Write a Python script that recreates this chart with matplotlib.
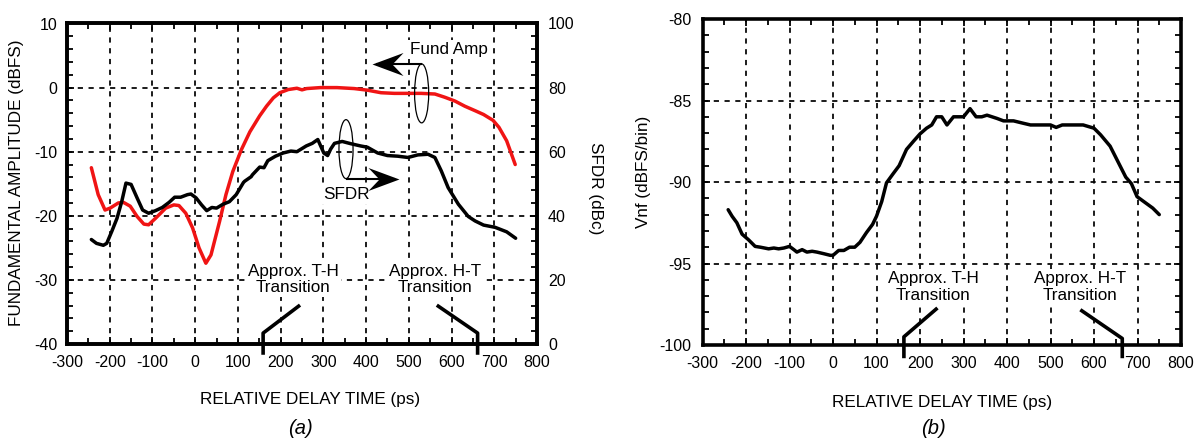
import matplotlib
matplotlib.use("Agg")
import matplotlib.pyplot as plt
from matplotlib.patches import Ellipse
from matplotlib.path import Path
from matplotlib.ticker import MultipleLocator

plt.rcParams['font.family'] = ['Liberation Sans', 'DejaVu Sans']

# ---------------- data ----------------
delay_fund = [-243, -227, -211, -199, -180, -168, -152, -136, -120, -109, -93, -69, -50, -38,
              -22, -6, 9, 25, 37, 57, 72, 88, 108, 128, 151, 167, 183, 198, 218, 238, 250,
              261, 293, 332, 372, 403, 435, 466, 498, 529, 561, 584, 608, 631, 655, 675,
              697, 711, 729, 749]
fund_amp = [-12.5, -16.7, -19.1, -18.8, -18.0, -17.9, -18.5, -20.1, -21.3, -21.4, -20.4, -18.8,
            -18.3, -18.4, -19.6, -21.9, -25.0, -27.4, -26.1, -20.9, -16.7, -13.1, -9.7, -6.9,
            -4.4, -2.9, -1.6, -0.8, -0.3, -0.1, -0.35, -0.15, 0.0, 0.0, -0.15, -0.4, -0.8,
            -0.9, -0.9, -0.9, -1.0, -1.5, -2.1, -2.9, -3.6, -4.2, -5.1, -6.2, -8.3, -12.0]

delay_sfdr = [-243, -231, -215, -207, -195, -183, -172, -162, -150, -136, -123, -109, -93, -77,
              -61, -48, -34, -18, -10, 2, 15, 27, 39, 50, 65, 80, 96, 113, 116, 131, 134, 151,
              161, 170, 188, 206, 224, 238, 260, 274, 287, 301, 310, 317, 326, 344, 364, 387,
              403, 427, 450, 474, 498, 521, 545, 561, 576, 592, 616, 639, 655, 675, 702, 729,
              750]
sfdr = [32.6, 31.4, 30.8, 31.4, 35.2, 39.2, 44.4, 50.2, 49.8, 45.6, 41.8, 40.8, 41.6, 42.6,
        44.2, 45.8, 45.8, 46.6, 46.8, 45.6, 43.4, 41.6, 42.6, 42.4, 43.6, 44.4, 46.6, 50.4,
        50.8, 52.2, 52.8, 55.2, 55.0, 57.2, 58.6, 59.6, 60.2, 60.0, 61.8, 62.6, 63.8, 59.6,
        58.8, 60.8, 62.6, 63.2, 62.5, 61.8, 61.4, 59.6, 58.8, 58.6, 58.2, 59.0, 59.2, 58.2,
        54.0, 48.8, 43.6, 39.8, 38.4, 37.1, 36.4, 35.0, 33.0]

delay_vnf = [-241, -232, -221, -209, -194, -179, -167, -148, -136, -125, -113, -100, -90, -83,
             -71, -60, -48, -37, -21, -6, 0, 13, 25, 38, 50, 62, 77, 91, 100, 112, 123, 138,
             152, 169, 185, 200, 215, 227, 238, 250, 262, 277, 300, 315, 329, 342, 354, 377,
             392, 415, 438, 454, 500, 513, 527, 575, 600, 615, 637, 655, 673, 686, 699, 717,
             735, 750]
vnf = [-91.7, -92.1, -92.5, -93.2, -93.55, -93.95, -94.0, -94.1, -94.05, -94.1, -94.05, -93.95,
       -94.15, -94.3, -94.15, -94.3, -94.25, -94.3, -94.4, -94.5, -94.5, -94.2, -94.2, -94.0,
       -94.0, -93.7, -93.1, -92.6, -92.1, -91.2, -90.05, -89.5, -89.0, -88.0, -87.5, -87.05,
       -86.7, -86.5, -86.0, -86.0, -86.5, -86.0, -86.0, -85.5, -86.0, -86.0, -85.9, -86.1,
       -86.25, -86.25, -86.4, -86.5, -86.5, -86.65, -86.5, -86.5, -86.7, -87.1, -87.8,
       -88.75, -89.7, -90.1, -90.9, -91.25, -91.6, -92.0]

x_ticks = [-300, -200, -100, 0, 100, 200, 300, 400, 500, 600, 700, 800]
fund_ticks = [-40, -30, -20, -10, 0, 10]
sfdr_ticks = [0, 20, 40, 60, 80, 100]
vnf_ticks = [-100, -95, -90, -85, -80]

# ---------------- style ----------------
W, H = 1204, 440
fig = plt.figure(figsize=(W / 100, H / 100), dpi=100)
TICK_FS = 11.5
LAB_FS = 12.3
GRID_KW = dict(color='black', linewidth=1.25, linestyle=(0, (3, 3.2)))
SPINE_LW = 2.6
CURVE_LW = 2.5
RED = '#f01414'
BOX = dict(boxstyle='square,pad=0.12', fc='white', ec='none')


def fpos(x0, y0, x1, y1):
    return [x0 / W, 1 - y1 / H, (x1 - x0) / W, (y1 - y0) / H]


def style_axes(ax, left=True, right=True):
    for s in ax.spines.values():
        s.set_linewidth(SPINE_LW)
    ax.tick_params(which='both', direction='in', top=True, right=right, left=left,
                   labelsize=TICK_FS, width=1.3, color='black')
    ax.tick_params(which='major', length=5)
    ax.tick_params(which='minor', length=4)
    ax.tick_params(axis='x', pad=8)
    ax.tick_params(axis='y', pad=7)


# stealth arrowhead marker (tip at origin)
HL, HW, HN = 31, 11.5, 20
stealth_right = Path([(0, 0), (-HL, HW), (-HN, 0), (-HL, -HW), (0, 0)],
                     [Path.MOVETO, Path.LINETO, Path.LINETO, Path.LINETO, Path.CLOSEPOLY])
stealth_left = Path([(0, 0), (HL, HW), (HN, 0), (HL, -HW), (0, 0)],
                    [Path.MOVETO, Path.LINETO, Path.LINETO, Path.LINETO, Path.CLOSEPOLY])
HEAD_MS = 2 * HL * 0.72


def arrow(ax, x0, x1, y, head):
    ax.plot([x0, x1 + (10 if x1 < x0 else -10)], [y, y], color='black', lw=1.5, zorder=6,
            solid_capstyle='butt')
    ax.plot([x1], [y], marker=head, ms=HEAD_MS, color='black', mec='black', mew=0,
            zorder=7, linestyle='none')


# ---------------- panel (a) ----------------
ax = fig.add_axes(fpos(67, 23.5, 537, 344))
ax.set_xlim(-300, 800)
ax.set_ylim(-40, 10)
ax.set_xticks(x_ticks)
ax.set_xticklabels([str(v) for v in x_ticks])
ax.set_yticks(fund_ticks)
ax.set_yticklabels([str(v) for v in fund_ticks])
ax.xaxis.set_minor_locator(MultipleLocator(50))
ax.yaxis.set_minor_locator(MultipleLocator(2))
ax.grid(True, which='major', **GRID_KW)
ax.set_axisbelow(True)
style_axes(ax, right=False)
ax.plot(delay_fund, fund_amp, color=RED, lw=CURVE_LW, solid_joinstyle='round',
        solid_capstyle='round', zorder=3)

ax2 = ax.twinx()
ax2.set_ylim(0, 100)
ax2.set_yticks(sfdr_ticks)
ax2.set_yticklabels([str(v) for v in sfdr_ticks])
ax2.yaxis.set_minor_locator(MultipleLocator(4))
for s in ax2.spines.values():
    s.set_linewidth(SPINE_LW)
ax2.tick_params(which='both', direction='in', labelsize=TICK_FS, width=1.3, pad=8)
ax2.tick_params(which='major', length=5)
ax2.tick_params(which='minor', length=4)
ax2.plot(delay_sfdr, sfdr, color='black', lw=CURVE_LW, solid_joinstyle='round',
         solid_capstyle='round', zorder=3)


# annotations (a) -- drawn on ax2 so they sit above both curves; convert dB -> ax2 units
def to2(y):
    return 2 * (y + 40)


ax2.add_patch(Ellipse((530, to2(-0.9)), 33, to2(4.6) - to2(-4.6), fill=False, lw=0.9,
                      color='black', zorder=5))
ax2.add_patch(Ellipse((353, to2(-9.6)), 33, to2(4.6) - to2(-4.6), fill=False, lw=0.9,
                      color='black', zorder=5))
arrow(ax2, 530, 413, to2(3.7), stealth_left)
arrow(ax2, 353, 478, to2(-14.2), stealth_right)
ax2.text(594, to2(5.9), 'Fund Amp', ha='center', va='center', fontsize=LAB_FS, zorder=6,
         bbox=BOX)
ax2.text(354, to2(-16.7), 'SFDR', ha='center', va='center', fontsize=LAB_FS, zorder=6,
         bbox=BOX)
ax2.text(229, to2(-29.95), 'Approx. T-H\nTransition', ha='center', va='center',
         fontsize=LAB_FS, linespacing=1.12, zorder=6, bbox=BOX)
ax2.text(562, to2(-29.95), 'Approx. H-T\nTransition', ha='center', va='center',
         fontsize=LAB_FS, linespacing=1.12, zorder=6, bbox=BOX)
ax2.plot([242, 159, 159], [to2(-34.1), to2(-38.3), to2(-41.4)], color='black', lw=2.6,
         clip_on=False, zorder=6)
ax2.plot([569, 661, 661], [to2(-34.1), to2(-38.3), to2(-41.4)], color='black', lw=2.6,
         clip_on=False, zorder=6)

fig.text(17 / W, 1 - 183 / H, 'FUNDAMENTAL AMPLITUDE (dBFS)', rotation=90, ha='center',
         va='center', fontsize=LAB_FS)
fig.text(595 / W, 1 - 188 / H, 'SFDR (dBc)', rotation=270, ha='center', va='center',
         fontsize=LAB_FS)
fig.text(310 / W, 1 - 399 / H, 'RELATIVE DELAY TIME (ps)', ha='center', va='center',
         fontsize=LAB_FS)
fig.text(300 / W, 1 - 428 / H, '(a)', ha='center', va='center', fontsize=14.5, style='italic')

# ---------------- panel (b) ----------------
bx = fig.add_axes(fpos(702.5, 19, 1181, 345))
bx.set_xlim(-300, 800)
bx.set_ylim(-100, -80)
bx.set_xticks(x_ticks)
bx.set_xticklabels([str(v) for v in x_ticks])
bx.set_yticks(vnf_ticks)
bx.set_yticklabels([str(v) for v in vnf_ticks])
bx.xaxis.set_minor_locator(MultipleLocator(50))
bx.yaxis.set_minor_locator(MultipleLocator(1))
bx.grid(True, which='major', **GRID_KW)
bx.set_axisbelow(True)
style_axes(bx)
bx.tick_params(axis='y', pad=8)
bx.plot(delay_vnf, vnf, color='black', lw=CURVE_LW, solid_joinstyle='round',
        solid_capstyle='round', zorder=3)

bx.text(231, -96.44, 'Approx. T-H\nTransition', ha='center', va='center', fontsize=LAB_FS,
        linespacing=1.12, zorder=6, bbox=BOX)
bx.text(567, -96.44, 'Approx. H-T\nTransition', ha='center', va='center', fontsize=LAB_FS,
        linespacing=1.12, zorder=6, bbox=BOX)
bx.plot([237, 163, 163], [-97.8, -99.5, -100.7], color='black', lw=2.6, clip_on=False, zorder=6)
bx.plot([572, 665, 665], [-97.9, -99.6, -100.7], color='black', lw=2.6, clip_on=False, zorder=6)

fig.text(644 / W, 1 - 172 / H, 'Vnf (dBFS/bin)', rotation=90, ha='center', va='center',
         fontsize=LAB_FS)
fig.text(942 / W, 1 - 402 / H, 'RELATIVE DELAY TIME (ps)', ha='center', va='center',
         fontsize=LAB_FS)
fig.text(933 / W, 1 - 428 / H, '(b)', ha='center', va='center', fontsize=14.5, style='italic')

fig.savefig('out.png', dpi=100, facecolor='white')
